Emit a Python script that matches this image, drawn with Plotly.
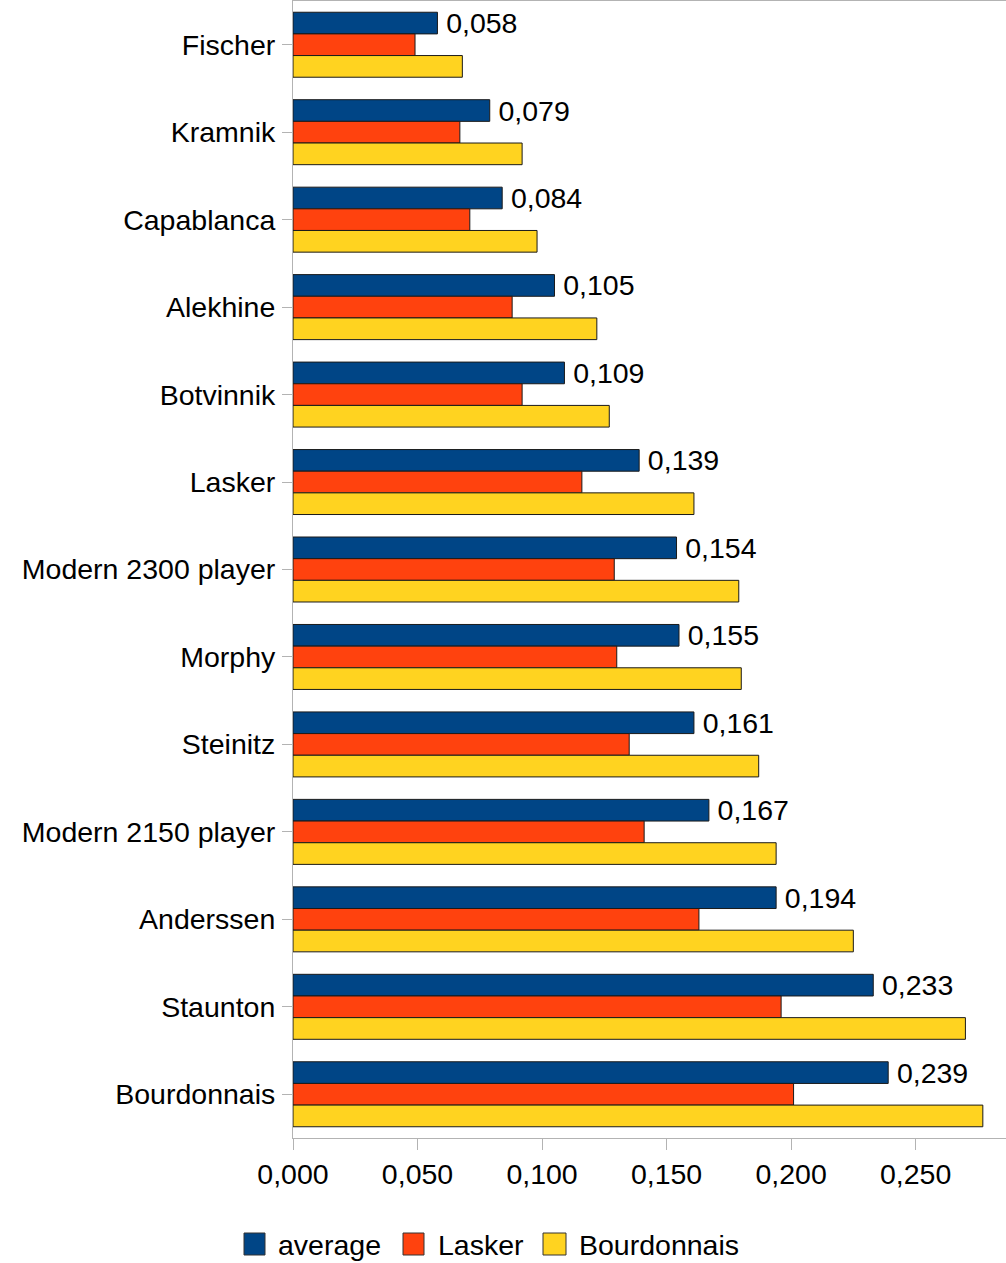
import plotly.graph_objects as go

players = ["Fischer", "Kramnik", "Capablanca", "Alekhine", "Botvinnik", "Lasker",
           "Modern 2300 player", "Morphy", "Steinitz", "Modern 2150 player",
           "Anderssen", "Staunton", "Bourdonnais"]
average = [0.058, 0.079, 0.084, 0.105, 0.109, 0.139, 0.154, 0.155, 0.161, 0.167, 0.194, 0.233, 0.239]
lasker = [0.049, 0.067, 0.071, 0.088, 0.092, 0.116, 0.129, 0.130, 0.135, 0.141, 0.163, 0.196, 0.201]
bourdonnais = [0.068, 0.092, 0.098, 0.122, 0.127, 0.161, 0.179, 0.180, 0.187, 0.194, 0.225, 0.270, 0.277]

series_names = ["average", "Lasker", "Bourdonnais"]
colors = ["#004586", "#ff420e", "#ffd320"]

FONT = "Liberation Sans, Arial, sans-serif"
FS = 28.5
line = dict(color="#1a1a1a", width=1)

fig = go.Figure()
for name, vals, col in zip(series_names, [average, lasker, bourdonnais], colors):
    kw = {}
    if name == "average":
        kw = dict(texttemplate="\u2009%{x:.3f}", textposition="outside", constraintext="none",
                  textfont=dict(size=FS, color="black", family=FONT), cliponaxis=False)
    fig.add_trace(go.Bar(name=name, y=players, x=vals, orientation="h",
                         marker=dict(color=col, line=line), showlegend=False, **kw))

# Legend drawn below the plot (paper coordinates): swatch + label for each series
PLOT_L, PLOT_W, PLOT_B, PLOT_H = 293, 713, 1138, 1137
def px_x(p):
    return (p - PLOT_L) / PLOT_W
def px_y(p):
    return (PLOT_B - p) / PLOT_H

legend_swatch_x = [(244, 265), (403, 424), (543, 566)]
legend_text_x = [276, 436, 577]
for name, col, (x0, x1), tx in zip(series_names, colors, legend_swatch_x, legend_text_x):
    fig.add_shape(type="rect", xref="paper", yref="paper",
                  x0=px_x(x0), x1=px_x(x1), y0=px_y(1255), y1=px_y(1233),
                  fillcolor=col, line=dict(color="#333333", width=1))
    fig.add_annotation(xref="paper", yref="paper", x=px_x(tx), y=px_y(1245),
                       xanchor="left", yanchor="middle", showarrow=False, text=name,
                       font=dict(size=FS, family=FONT, color="black"))

fig.update_layout(
    width=1006, height=1263,
    margin=dict(l=293, r=0, t=1, b=125, autoexpand=False),
    paper_bgcolor="white", plot_bgcolor="white",
    separators=",.",
    barmode="group", bargap=0.257, bargroupgap=0,
    font=dict(family=FONT, size=FS, color="black"),
    showlegend=False,
    xaxis=dict(range=[0, 0.2863], dtick=0.05, tick0=0, tickformat=".3f",
               showgrid=False, zeroline=False, showline=True, linecolor="#b3b3b3",
               linewidth=1, mirror=True, ticks="outside", ticklen=11, tickcolor="#b3b3b3",
               tickfont=dict(size=FS, family=FONT)),
    yaxis=dict(categoryorder="array", categoryarray=players, autorange="reversed",
               showgrid=False, zeroline=False, showline=True, linecolor="#b3b3b3",
               linewidth=1, ticks="outside", ticklen=10, tickcolor="#b3b3b3",
               ticklabelstandoff=1, tickfont=dict(size=FS, family=FONT)),
)

fig.write_html("out.html", config={"displayModeBar": False},
               post_script="document.body.style.margin='0';document.body.style.padding='0';")
